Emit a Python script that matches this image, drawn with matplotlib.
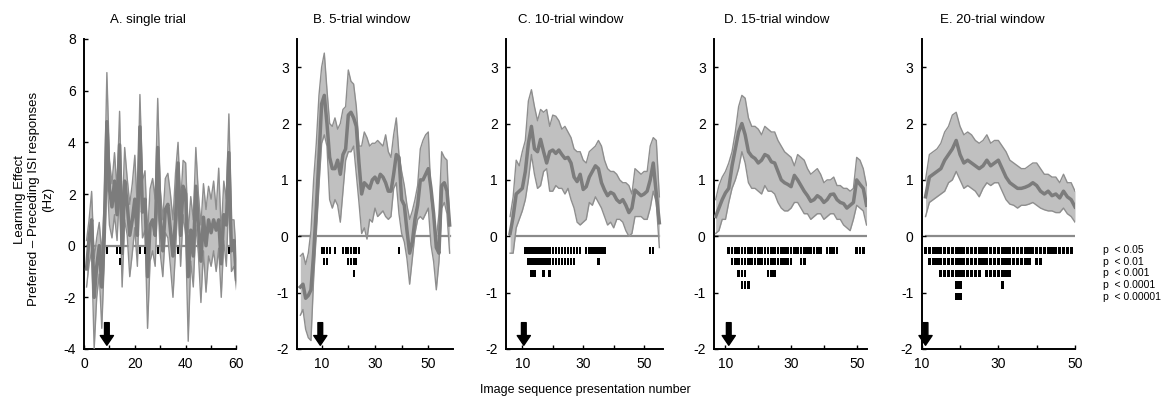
import numpy as np
import matplotlib
matplotlib.use('Agg')
import matplotlib.pyplot as plt
from matplotlib import rcParams

rcParams['font.family'] = 'Liberation Sans'
rcParams['font.size'] = 9
rcParams['axes.unicode_minus'] = False

#%% data
# A. single trial
x_a = np.arange(1, 61)
mean_a = [-0.9, 0.3, 1.0, -2.0, -0.8, 0.0, -1.6, 0.5, 4.8, 2.2,
          1.5, 2.5, 1.2, 3.9, -0.3, 2.5, 1.6, 0.4, 1.0, 1.8,
          0.4, 4.6, 1.3, 1.8, -1.2, 0.8, 1.0, 0.4, 3.8, 1.0,
          -0.2, 1.4, 1.6, 0.6, -0.4, 1.0, 3.2, 0.4, 2.3, 2.0,
          -1.2, 0.6, -0.4, 2.3, 0.8, -0.6, 1.1, 0.0, 1.0, 0.5,
          1.0, 0.6, 1.0, -0.7, 1.2, 0.8, 3.6, -0.2, 0.2, -1.3]
upper_a = [0.2, 1.0, 2.1, -0.5, 0.3, 0.9, -0.3, 1.8, 6.7, 3.3,
           2.4, 3.6, 2.2, 5.2, 1.1, 3.8, 2.6, 1.6, 2.4, 3.5,
           1.4, 5.85, 2.5, 2.9, 0.4, 2.2, 2.6, 1.8, 5.7, 2.2,
           1.0, 2.6, 2.8, 2.0, 1.0, 2.8, 4.0, 1.6, 3.3, 3.2,
           0.5, 1.9, 1.0, 3.8, 2.0, 0.8, 2.4, 1.4, 2.3, 1.8,
           2.5, 1.4, 3.0, 0.5, 2.5, 1.8, 5.1, 1.0, 1.0, -0.5]
lower_a = [-1.6, -0.7, -0.2, -4.0, -2.0, -1.1, -3.2, -0.5, 2.8, 0.8,
           0.3, 1.2, 0.2, 2.2, -1.6, 1.0, 0.4, -1.2, -0.3, 0.7,
           -0.8, 2.8, 0.3, 0.6, -3.2, -0.6, -0.2, -0.8, 2.0, -0.3,
           -1.2, 0.5, 0.3, -0.8, -2.0, -0.2, 1.8, -0.8, 1.2, 0.4,
           -3.7, -0.6, -1.6, 0.8, -0.3, -2.2, -0.2, -1.8, -0.4, -0.8,
           -0.2, -1.0, -0.1, -2.0, 0.2, -0.8, 2.0, -1.0, -0.8, -1.7]
sig_a = [[9, 13, 14, 22, 24, 29, 37, 57],
         [14]]

# B. 5-trial window
x_b = np.arange(2, 59)
mean_b = [-0.9, -0.85, -1.1, -1.05, -0.95, -0.3, 0.5, 1.4, 2.35, 2.5,
          2.0, 1.4, 1.2, 1.2, 1.35, 1.1, 1.45, 1.55, 2.15, 2.2,
          2.1, 1.95, 1.3, 0.75, 0.95, 0.9, 0.85, 1.0, 1.05, 0.95,
          1.1, 1.05, 0.95, 0.8, 0.8, 1.1, 1.45, 1.4, 0.65, 0.55,
          0.1, -0.3, -0.1, 0.3, 0.55, 1.0, 1.0, 1.1, 1.2, 0.85,
          0.4, -0.2, -0.3, 0.9, 0.95, 0.8, 0.2]
upper_b = [-0.35, -0.3, -0.5, -0.3, 0.1, 1.0, 1.65, 2.5, 3.0, 3.25,
           2.6, 2.0, 1.95, 2.1, 1.9, 2.0, 2.25, 2.3, 2.95, 2.75,
           2.7, 2.3, 1.6, 1.6, 1.85, 1.75, 1.6, 1.65, 1.65, 1.7,
           1.65, 1.6, 1.8, 1.5, 1.4, 1.8, 2.1, 1.45, 1.15, 0.9,
           0.55, 0.3, 0.45, 0.65, 0.9, 1.55, 1.7, 1.8, 1.85, 0.7,
           0.3, -0.05, 0.4, 1.5, 1.4, 1.35, 0.2]
lower_b = [-1.4, -1.3, -1.65, -1.8, -1.85, -0.75, 0.05, 0.9, 1.65, 1.8,
           1.6, 0.65, 0.5, 0.65, 0.55, 0.25, 0.8, 1.35, 1.5, 1.5,
           1.6, 1.1, 0.6, 0.05, 0.15, -0.05, 0.3, 0.25, 0.5, 0.35,
           0.4, 0.45, 0.35, 0.3, 0.35, 0.85, 0.95, 0.4, 0.05, -0.1,
           -0.4, -0.85, -0.4, 0.05, 0.3, 0.35, 0.3, 0.4, 0.5, -0.15,
           -0.45, -0.95, -0.45, 0.5, 0.6, 0.4, -0.3]
sig_b = [[10, 11, 12, 13, 15, 18, 19, 20, 21, 22, 23, 24, 39],
         [11, 12, 20, 21, 22, 23],
         [22]]

# C. 10-trial window
x_c = np.arange(6, 56)
mean_c = [0.05, 0.35, 0.75, 0.8, 0.85, 1.15, 1.65, 1.95, 1.55, 1.5,
          1.72, 1.5, 1.3, 1.5, 1.53, 1.47, 1.53, 1.45, 1.38, 1.4,
          1.3, 1.05, 0.97, 1.1, 0.83, 0.88, 1.05, 1.15, 1.25, 1.2,
          0.95, 0.82, 0.72, 0.78, 0.75, 0.65, 0.6, 0.65, 0.55, 0.42,
          0.5, 0.82, 0.77, 0.72, 0.75, 0.8, 1.0, 1.3, 0.75, 0.24]
upper_c = [0.35, 0.7, 1.35, 1.25, 1.5, 1.7, 2.4, 2.6, 2.3, 2.05,
           2.25, 2.2, 2.25, 1.95, 2.15, 2.13, 2.05, 1.9, 1.95, 1.85,
           1.75, 1.55, 1.5, 1.5, 1.35, 1.3, 1.5, 1.55, 1.6, 1.7,
           1.6, 1.35, 1.2, 1.15, 1.15, 1.1, 1.0, 0.95, 0.95, 0.9,
           0.75, 1.2, 1.15, 1.1, 1.15, 1.15, 1.6, 1.75, 1.7, 0.7]
lower_c = [-0.3, -0.3, 0.15, 0.3, 0.45, 0.65, 1.0, 1.45, 1.1, 0.85,
           0.9, 1.15, 1.2, 0.8, 0.8, 0.9, 0.85, 0.85, 0.75, 0.85,
           0.65, 0.5, 0.25, 0.2, 0.25, 0.3, 0.6, 0.55, 0.7, 0.6,
           0.5, 0.35, 0.2, 0.25, 0.15, 0.3, 0.3, 0.25, 0.1, 0.0,
           0.05, 0.35, 0.35, 0.35, 0.3, 0.3, 0.5, 0.8, 0.6, -0.2]
sig_c = [list(range(11, 30)) + list(range(31, 38)) + [52, 53],
         list(range(12, 28)) + [35],
         [13, 14, 17, 19]]

# D. 15-trial window
x_d = np.arange(7, 54)
mean_d = [0.35, 0.5, 0.65, 0.77, 0.85, 1.25, 1.55, 1.85, 2.0, 1.8,
          1.5, 1.42, 1.38, 1.3, 1.35, 1.45, 1.42, 1.32, 1.3, 1.15,
          1.0, 0.95, 0.92, 0.88, 1.08, 1.0, 0.9, 0.8, 0.72, 0.62,
          0.65, 0.72, 0.68, 0.6, 0.65, 0.74, 0.75, 0.65, 0.6, 0.58,
          0.5, 0.55, 0.6, 1.0, 0.92, 0.85, 0.55]
upper_d = [0.65, 0.9, 1.05, 1.15, 1.3, 1.5, 1.85, 2.3, 2.5, 2.45,
           2.1, 1.95, 1.95, 1.9, 1.8, 1.95, 1.9, 1.85, 1.85, 1.7,
           1.6, 1.5, 1.45, 1.4, 1.25, 1.45, 1.4, 1.35, 1.2, 1.1,
           1.15, 1.2, 1.1, 0.95, 1.0, 1.0, 1.05, 0.9, 0.9, 0.85,
           0.85, 0.8, 0.85, 1.4, 1.35, 1.2, 0.9]
lower_d = [0.05, 0.1, 0.3, 0.3, 0.6, 0.85, 1.0, 1.2, 1.5, 1.3,
           0.95, 0.85, 0.85, 0.8, 0.75, 0.9, 0.8, 0.8, 0.75, 0.6,
           0.5, 0.45, 0.45, 0.5, 0.6, 0.6, 0.5, 0.4, 0.4, 0.3,
           0.35, 0.4, 0.4, 0.3, 0.35, 0.4, 0.4, 0.3, 0.3, 0.2,
           0.15, 0.1, 0.3, 0.55, 0.5, 0.45, 0.2]
sig_d = [list(range(11, 40)) + [41, 42, 43, 44, 50, 51, 52],
         list(range(12, 31)) + [33, 34],
         [14, 15, 16, 23, 24, 25],
         [15, 16, 17]]

# E. 20-trial window
x_e = np.arange(11, 51)
mean_e = [0.7, 1.05, 1.1, 1.15, 1.2, 1.35, 1.45, 1.55, 1.7, 1.45,
          1.3, 1.35, 1.3, 1.25, 1.2, 1.25, 1.35, 1.25, 1.3, 1.35,
          1.2, 1.05, 0.95, 0.9, 0.85, 0.85, 0.87, 0.9, 0.95, 0.9,
          0.8, 0.75, 0.8, 0.72, 0.75, 0.68, 0.8, 0.7, 0.65, 0.52]
upper_e = [1.0, 1.45, 1.5, 1.55, 1.65, 1.85, 1.95, 2.15, 2.2, 1.95,
           1.8, 1.85, 1.8, 1.7, 1.65, 1.7, 1.8, 1.65, 1.7, 1.7,
           1.6, 1.5, 1.35, 1.3, 1.25, 1.2, 1.2, 1.25, 1.3, 1.3,
           1.2, 1.1, 1.1, 1.05, 1.05, 0.95, 1.1, 0.95, 0.95, 0.8]
lower_e = [0.35, 0.6, 0.65, 0.7, 0.75, 0.8, 0.95, 1.0, 1.15, 1.0,
           0.85, 0.9, 0.85, 0.8, 0.7, 0.85, 0.95, 0.9, 0.95, 0.95,
           0.8, 0.65, 0.57, 0.55, 0.5, 0.55, 0.55, 0.57, 0.6, 0.55,
           0.5, 0.47, 0.45, 0.45, 0.42, 0.42, 0.5, 0.4, 0.35, 0.25]
sig_e = [list(range(11, 50)),
         list(range(12, 39)) + [40, 41],
         list(range(15, 26)) + list(range(27, 34)),
         [19, 20, 31],
         [19, 20]]

titles = ['A. single trial', 'B. 5-trial window', 'C. 10-trial window',
          'D. 15-trial window', 'E. 20-trial window']
arrow_at = [9, 9.5, 10.5, 11, 11]
p_labels = ['p  < 0.05', 'p  < 0.01', 'p  < 0.001', 'p  < 0.0001', 'p  < 0.00001']

#%% layout
W, H = 1169, 401
ax_px = [(84, 152.5), (297, 156), (506, 157), (714, 152.7), (921.7, 153.3)]
ax_top, ax_bot = 39, 349
xlims = [(0, 60), (0.76, 59.26), (4.65, 56.2), (6.5, 53.05), (10, 50)]
title_x = [0.42, 0.415, 0.41, 0.41, 0.46]

band_face = '#c0c0c0'
band_edge = '#8e8e8e'
mean_col = '#7c7c7c'
zero_col = '#8a8a8a'

series = [(x_a, mean_a, upper_a, lower_a, sig_a),
          (x_b, mean_b, upper_b, lower_b, sig_b),
          (x_c, mean_c, upper_c, lower_c, sig_c),
          (x_d, mean_d, upper_d, lower_d, sig_d),
          (x_e, mean_e, upper_e, lower_e, sig_e)]

fig = plt.figure(figsize=(W / 100, H / 100), dpi=100)

for i, (x, m, up, lo, sig) in enumerate(series):
      left, width = ax_px[i]
      ax = fig.add_axes([left / W, 1 - ax_bot / H, width / W, (ax_bot - ax_top) / H])
      ylim = (-4, 8) if i == 0 else (-2, 3.5)
      yr = ylim[1] - ylim[0]

      ax.plot([x[0], x[-1]], [0, 0], color=zero_col, lw=1.6, zorder=1)
      ax.fill_between(x, lo, up, color=band_face, lw=0, zorder=2)
      ax.plot(x, up, color=band_edge, lw=1.0, zorder=3)
      ax.plot(x, lo, color=band_edge, lw=1.0, zorder=3)
      ax.plot(x, m, color=mean_col, lw=2.5, zorder=4)

      # significance rows (fixed spacing below the zero line)
      for k, row in enumerate(sig):
            yc = ylim[0] + (0.319 - 0.0375 * k) * yr
            hh = 0.023 * yr
            ax.bar(row, hh, width=0.8, bottom=yc - hh / 2, color='black',
                   lw=0, zorder=5)

      ax.annotate('', xy=(arrow_at[i], 0.012), xycoords=('data', 'axes fraction'),
                  xytext=(arrow_at[i], 0.085), textcoords=('data', 'axes fraction'),
                  arrowprops=dict(facecolor='black', edgecolor='black', width=3.4,
                                  headwidth=9.5, headlength=7, shrink=0))

      ax.set_xlim(*xlims[i])
      ax.set_ylim(*ylim)
      if i == 0:
            ax.set_xticks(range(0, 61, 10))
            ax.set_xticklabels(['0', '', '20', '', '40', '', '60'])
            ax.set_yticks(range(-4, 9, 2))
      else:
            ax.set_xticks(range(10, 51, 10))
            ax.set_xticklabels(['10', '', '30', '', '50'])
            ax.set_yticks(range(-2, 4))
      for s in ['top', 'right']:
            ax.spines[s].set_visible(False)
      for s in ['left', 'bottom']:
            ax.spines[s].set_linewidth(1.4)
            ax.spines[s].set_color('black')
      ax.tick_params(direction='in', length=3, width=1, labelsize=10)
      ax.tick_params(axis='x', pad=6)
      ax.tick_params(axis='y', pad=6)
      ax.text(title_x[i], 1.062, titles[i], transform=ax.transAxes,
              ha='center', va='center', fontsize=9.5)

      if i == 4:
            for k, lab in enumerate(p_labels):
                  yc = ylim[0] + (0.319 - 0.0375 * k) * yr
                  ax.text(1.18, yc, lab, transform=ax.get_yaxis_transform(),
                          ha='left', va='center', fontsize=7.5)

fig.text(34 / W, 1 - 199 / H,
         'Learning Effect\nPreferred \u2013 Preceding ISI responses\n(Hz)',
         rotation=90, ha='center', va='center', fontsize=9.5, multialignment='center')
fig.text(585 / W, 1 - 390 / H, 'Image sequence presentation number',
         ha='center', va='center', fontsize=9)

plt.savefig('out.png', dpi=100)
